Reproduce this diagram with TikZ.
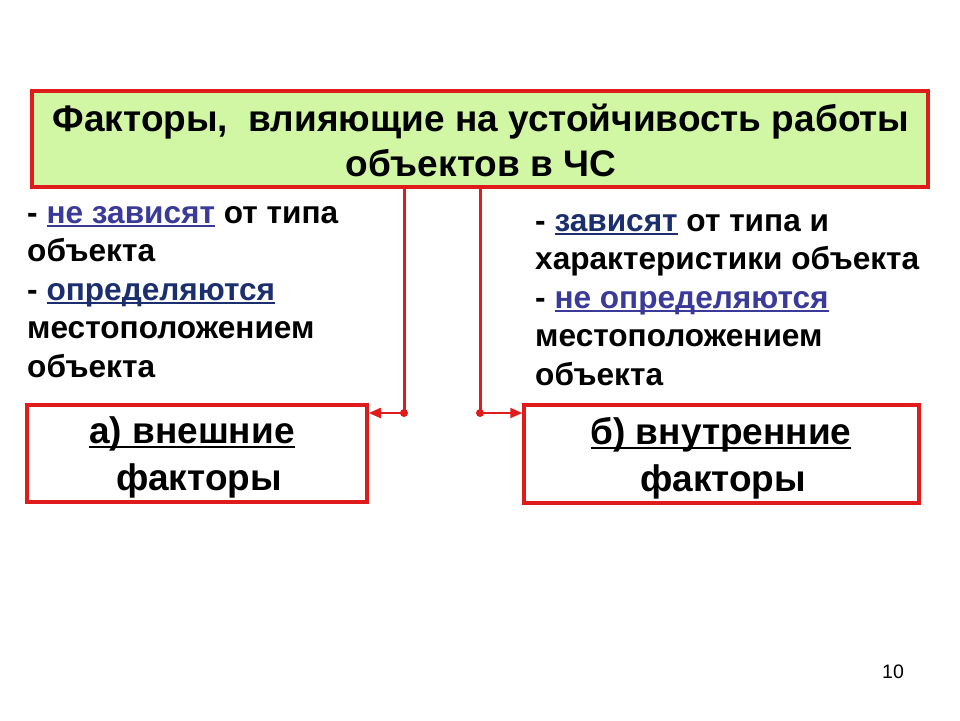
\documentclass[tikz,border=0pt]{standalone}
\usepackage{fontspec}
\setmainfont{Liberation Sans}
\usetikzlibrary{arrows.meta}
\definecolor{lred}{HTML}{E01B1B}
\definecolor{lgreen}{HTML}{D2F7A4}
\definecolor{blueA}{HTML}{3A3A9A}
\definecolor{blueB}{HTML}{1B2E6E}
\newcommand{\myul}[2][4pt]{\setbox0\hbox{#2}\rlap{\rule[-#1]{\wd0}{2.4pt}}\box0}
\newcommand{\ulA}[1]{\textcolor{blueA}{\myul{#1}}}
\newcommand{\ulB}[1]{\textcolor{blueB}{\myul{#1}}}
\tikzset{
  titlebox/.style={draw=lred, line width=4pt, fill=lgreen, minimum width=896pt, minimum height=96pt, inner sep=0pt},
  titletext/.style={inner sep=0pt, align=center, anchor=base, font=\fontsize{37}{45}\selectfont\bfseries},
  factbox/.style={draw=lred, line width=3.5pt, fill=white, inner sep=0pt},
  facttext/.style={inner sep=0pt, anchor=base, font=\fontsize{37}{47}\selectfont\bfseries},
  sidetext/.style={anchor=base west, inner sep=0pt, align=left, font=\fontsize{31.6}{38.5}\selectfont\bfseries},
  conn/.style={draw=lred, line width=3pt},
  arr/.style={draw=lred, line width=2pt, -{Triangle[length=12pt,width=10pt]}},
  jdot/.style={circle, fill=lred, inner sep=0pt, minimum size=8pt}
}
\begin{document}
\begin{tikzpicture}[x=1pt,y=-1pt]
\useasboundingbox (0,0) rectangle (960,720);
\node[titlebox] (top) at (480,139) {};
\node[titletext] (tt1) at (481,131) {Факторы,\ \ влияющие на устойчивость работы};
\node[titletext] (tt2) at (481,176) {объектов в ЧС};
\node[factbox, minimum width=340pt, minimum height=97pt] (a) at (197,453.5) {};
\node[factbox, minimum width=395pt, minimum height=98pt] (b) at (721.5,454) {};
\node[facttext] (at1) at (192,443) {\myul[5pt]{а) внешние}};
\node[facttext] (at2) at (199,490) {факторы};
\node[facttext] (bt1) at (721,444) {\myul[5pt]{б) внутренние}};
\node[facttext] (bt2) at (723,491) {факторы};
\node[sidetext] (lt) at (27,377) {- \ulA{не зависят} от типа\\объекта\\- \ulB{определяются}\\местоположением\\объекта};
\node[sidetext] (rt) at (535,385) {- \ulB{зависят} от типа и\\характеристики объекта\\- \ulA{не определяются}\\местоположением\\объекта};
\node[inner sep=0pt, font=\fontsize{19.5}{22}\selectfont] (pg) at (893,672) {10};
\coordinate (ja) at (404,413);
\coordinate (jb) at (480,413);
\draw[conn] (top.south -| ja) -- (ja);
\draw[conn] (top.south -| jb) -- (jb);
\draw[arr] (ja) -- (a.east |- ja);
\draw[arr] (jb) -- (b.west |- jb);
\node[jdot] at (ja) {};
\node[jdot] at (jb) {};
\end{tikzpicture}
\end{document}
